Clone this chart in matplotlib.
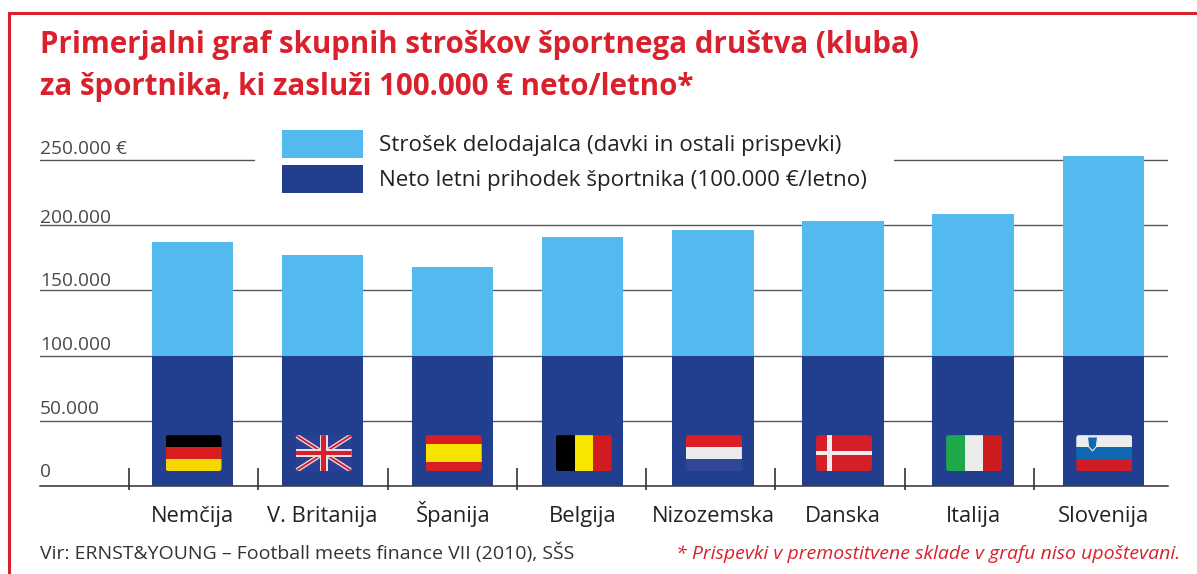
import matplotlib
matplotlib.use('Agg')
import matplotlib.pyplot as plt
from matplotlib.patches import Rectangle, FancyBboxPatch, Polygon

plt.rcParams['font.family'] = ['Open Sans', 'DejaVu Sans']

countries = ['Nemčija', 'V. Britanija', 'Španija', 'Belgija', 'Nizozemska', 'Danska', 'Italija', 'Slovenija']
neto = [100000] * 8
total = [187000, 177000, 168000, 191000, 196000, 203000, 208500, 253000]
strosek = [t - n for t, n in zip(total, neto)]
yticks = [0, 50000, 100000, 150000, 200000, 250000]
yticklabels = ['0', '50.000', '100.000', '150.000', '200.000', '250.000 €']
label_nudge = [9, 7, 6, 4, 2, 6]  # px above the grid line, they are not even in the original
legend_labels = ['Strošek delodajalca (davki in ostali prispevki)',
                 'Neto letni prihodek športnika (100.000 €/letno)']

# flags: stripes as (colour, share), 'h' or 'v'
flags = {'Nemčija': ('h', [('#000000', 1), ('#d81e1e', 1), ('#f5d800', 1)]),
         'V. Britanija': ('uk', []),
         'Španija': ('h', [('#d81e24', 1), ('#f7e200', 2), ('#d81e24', 1)]),
         'Belgija': ('v', [('#000000', 1), ('#f9e600', 1), ('#d01c20', 1)]),
         'Nizozemska': ('h', [('#dc1f26', 1), ('#ececec', 1), ('#2f4796', 1)]),
         'Danska': ('dk', []),
         'Italija': ('v', [('#1fa84a', 1), ('#ececec', 1), ('#cc1c20', 1)]),
         'Slovenija': ('h', [('#ececec', 1), ('#1268b0', 1), ('#d01c24', 1)])}

W, H = 1197, 574
LIGHT = '#52baee'
DARK = '#213f8e'
RED = '#d9202c'
GREY = '#555555'
STEP = 130.1

fig = plt.figure(figsize=(W / 100, H / 100), dpi=100)

# page frame, top and left only
fig.add_artist(plt.Line2D([9 / W, 1], [1 - 13 / H, 1 - 13 / H], color=RED, lw=2.2))
fig.add_artist(plt.Line2D([9 / W, 9 / W], [0, 1 - 13 / H], color=RED, lw=2.2))

ax_left, ax_right, ax_top, ax_bottom = 40, 1168, 120, 486
ax = fig.add_axes([ax_left / W, 1 - ax_bottom / H, (ax_right - ax_left) / W, (ax_bottom - ax_top) / H])
ax.set_xlim((ax_left - 192.5) / STEP, (ax_right - 192.5) / STEP)
ax.set_ylim(0, (ax_bottom - ax_top) / 1.304 * 1000)

x = list(range(len(countries)))
b2 = ax.bar(x, neto, width=0.625, color=DARK, zorder=3, label=legend_labels[1])
b1 = ax.bar(x, strosek, bottom=neto, width=0.625, color=LIGHT, zorder=3, label=legend_labels[0])

ax.set_yticks(yticks)
ax.tick_params(axis='y', length=0, labelleft=False)
ax.grid(axis='y', color=GREY, lw=1, zorder=1)
ax.set_axisbelow(True)
for s in ['top', 'left', 'right']:
    ax.spines[s].set_visible(False)
ax.spines['bottom'].set_color('#333333')
ax.spines['bottom'].set_linewidth(1.1)

ax.set_xticks(x)
ax.set_xticklabels(countries, fontsize=15.8, color='#222222', va='baseline')
ax.tick_params(axis='x', length=0, pad=26)

# separators between the countries, a bit tighter than the bars in the original
for i in range(len(countries)):
    ax.vlines(i * 0.9938 - 0.488, -3000, 14000, color='#333333', lw=1.2, clip_on=False, zorder=4)

for v, lab, n in zip(yticks, yticklabels, label_nudge):
    ax.annotate(lab, (0, v), xycoords=ax.get_yaxis_transform(), xytext=(0, n * 0.72),
                textcoords='offset points', ha='left', va='baseline', fontsize=13.8, color='#4a4a4a', zorder=2)

# flags sit in the lower part of the dark bars
fw, fy, fh = 0.43, 11500, 27500
for i, c in enumerate(countries):
    kind, stripes = flags[c]
    x0 = i - fw / 2 + 0.008
    clip = FancyBboxPatch((x0, fy), fw, fh, boxstyle='round,pad=0,rounding_size=0.02',
                          mutation_aspect=100000, fc='none', ec='none', transform=ax.transData)
    ax.add_patch(clip)
    parts = []
    if kind == 'h':
        tot = sum(s for _, s in stripes)
        pos = fy + fh
        for col, s in stripes:
            pos -= fh * s / tot
            parts.append(Rectangle((x0, pos), fw, fh * s / tot, fc=col, ec='none', zorder=5))
    elif kind == 'v':
        tot = sum(s for _, s in stripes)
        pos = x0
        for col, s in stripes:
            parts.append(Rectangle((pos, fy), fw * s / tot, fh, fc=col, ec='none', zorder=5))
            pos += fw * s / tot
    elif kind == 'dk':
        parts.append(Rectangle((x0, fy), fw, fh, fc='#d41f28', ec='none', zorder=5))
        parts.append(Rectangle((x0 + fw * 0.2, fy), fw * 0.08, fh, fc='#eeeeee', ec='none', zorder=6))
        parts.append(Rectangle((x0, fy + fh * 0.45), fw, fh * 0.1, fc='#eeeeee', ec='none', zorder=6))
    elif kind == 'uk':
        parts.append(Rectangle((x0, fy), fw, fh, fc='#2b3f94', ec='none', zorder=5))
        for lw_, col in [(3.2, '#e8e0e4'), (1.4, '#d81e2c')]:
            for ya, yb in [(fy, fy + fh), (fy + fh, fy)]:
                l, = ax.plot([x0, x0 + fw], [ya, yb], color=col, lw=lw_, zorder=6, solid_capstyle='butt')
                l.set_clip_path(clip)
        parts.append(Rectangle((x0 + fw * 0.43, fy), fw * 0.14, fh, fc='#e8e0e4', ec='none', zorder=7))
        parts.append(Rectangle((x0, fy + fh * 0.39), fw, fh * 0.22, fc='#e8e0e4', ec='none', zorder=7))
        parts.append(Rectangle((x0 + fw * 0.46, fy), fw * 0.08, fh, fc='#d81e2c', ec='none', zorder=8))
        parts.append(Rectangle((x0, fy + fh * 0.44), fw, fh * 0.12, fc='#d81e2c', ec='none', zorder=8))
    for p in parts:
        ax.add_patch(p)
        p.set_clip_path(clip)
    if c == 'Slovenija':
        ax.add_patch(Polygon([(x0 + fw * 0.2, fy + fh * 0.95), (x0 + fw * 0.38, fy + fh * 0.95),
                              (x0 + fw * 0.36, fy + fh * 0.68), (x0 + fw * 0.29, fy + fh * 0.56),
                              (x0 + fw * 0.22, fy + fh * 0.68)], fc='#1268b0', ec='#eeeeee', lw=0.8, zorder=7))

leg = ax.legend(handles=[b1, b2], labels=legend_labels, loc='upper left', bbox_to_anchor=(255 / W, 1 - 103 / H),
                bbox_transform=fig.transFigure, fontsize=16.1, frameon=True, framealpha=1, facecolor='white',
                edgecolor='none', fancybox=False, borderaxespad=0, borderpad=1.2, handlelength=3.62,
                handleheight=1.55, handletextpad=0.72, labelspacing=0.3, labelcolor='#222222')
leg.set_zorder(2)

fig.text(40 / W, 1 - 53 / H, 'Primerjalni graf skupnih stroškov športnega društva (kluba)',
         fontsize=21.25, fontweight='bold', color=RED, va='baseline', ha='left')
fig.text(40 / W, 1 - 95 / H, 'za športnika, ki zasluži 100.000 € neto/letno*',
         fontsize=21.25, fontweight='bold', color=RED, va='baseline', ha='left')
fig.text(40 / W, 1 - 559 / H, 'Vir: ERNST&YOUNG – Football meets finance VII (2010), SŠS',
         fontsize=14, color='#333333', va='baseline', ha='left')
fig.text(1180 / W, 1 - 559 / H, '* Prispevki v premostitvene sklade v grafu niso upoštevani.',
         fontsize=14, color=RED, style='italic', va='baseline', ha='right')

fig.savefig('out.png', dpi=100)
